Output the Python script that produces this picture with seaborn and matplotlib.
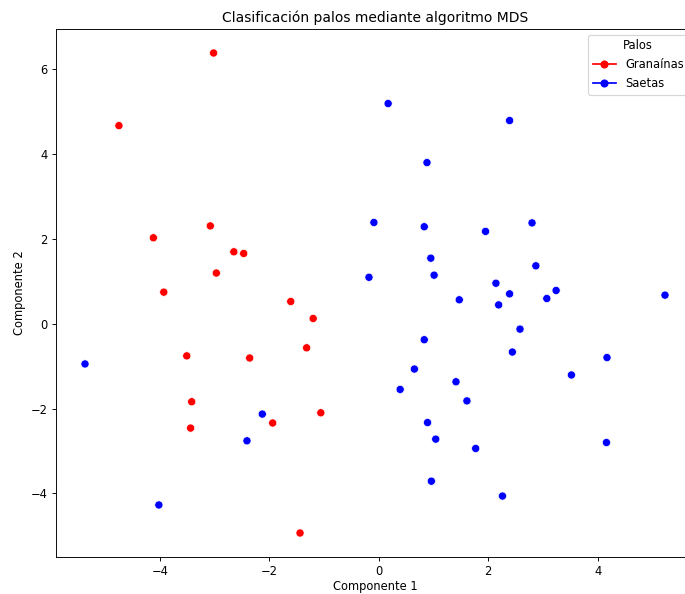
import pandas as pd
import seaborn as sns
import matplotlib.pyplot as plt
from matplotlib.lines import Line2D

# --- datos ---
granainas_x = [-3.02, -4.75, -4.12, -3.08, -2.65, -2.47, -2.97, -3.93, -1.61, -1.20,
               -1.32, -3.51, -2.36, -3.42, -3.44, -1.94, -1.06, -1.44]
granainas_y = [6.37, 4.66, 2.02, 2.30, 1.69, 1.65, 1.19, 0.74, 0.52, 0.12,
               -0.57, -0.76, -0.81, -1.84, -2.46, -2.34, -2.10, -4.93]

saetas_x = [-5.37, -2.13, -2.41, -4.02,
            0.17, 2.39, 0.88, -0.09, 0.83, 1.95, 2.80, 0.95, 1.01, -0.18, 2.87,
            2.14, 2.39, 1.47, 2.19, 3.24, 3.07, 5.23, 2.58,
            0.83, 2.44, 4.17, 0.65, 3.52, 1.41, 0.39, 1.61, 0.89, 1.04, 4.16,
            1.77, 0.96, 2.26]
saetas_y = [-0.95, -2.13, -2.76, -4.27,
            5.18, 4.78, 3.79, 2.38, 2.28, 2.17, 2.37, 1.54, 1.14, 1.09, 1.36,
            0.95, 0.70, 0.56, 0.44, 0.78, 0.59, 0.67, -0.13,
            -0.38, -0.67, -0.80, -1.07, -1.21, -1.37, -1.55, -1.82, -2.33, -2.72, -2.80,
            -2.94, -3.71, -4.06]

df = pd.DataFrame({
    'Componente 1': granainas_x + saetas_x,
    'Componente 2': granainas_y + saetas_y,
    'Palo': ['Granaínas'] * len(granainas_x) + ['Saetas'] * len(saetas_x),
})
colores = {'Granaínas': 'red', 'Saetas': 'blue'}

DPI = 83
fig = plt.figure(figsize=(685 / DPI, 594 / DPI), dpi=DPI)
# el eje derecho queda fuera de la imagen, como en el original
ax = fig.add_axes([56 / 685, 37 / 594, 638 / 685, 528 / 594])

sns.scatterplot(data=df, x='Componente 1', y='Componente 2', hue='Palo',
                palette=colores, s=50, ax=ax)

# leyenda con linea + marcador
handles = [Line2D([0], [0], color=c, marker='o', label=k) for k, c in colores.items()]
ax.legend(handles=handles, title='Palos', loc='upper right')

ax.set_title('Clasificación palos mediante algoritmo MDS')
ax.set_xlabel('Componente 1', labelpad=2)
ax.set_ylabel('Componente 2')

plt.savefig('out.png', dpi=DPI)
